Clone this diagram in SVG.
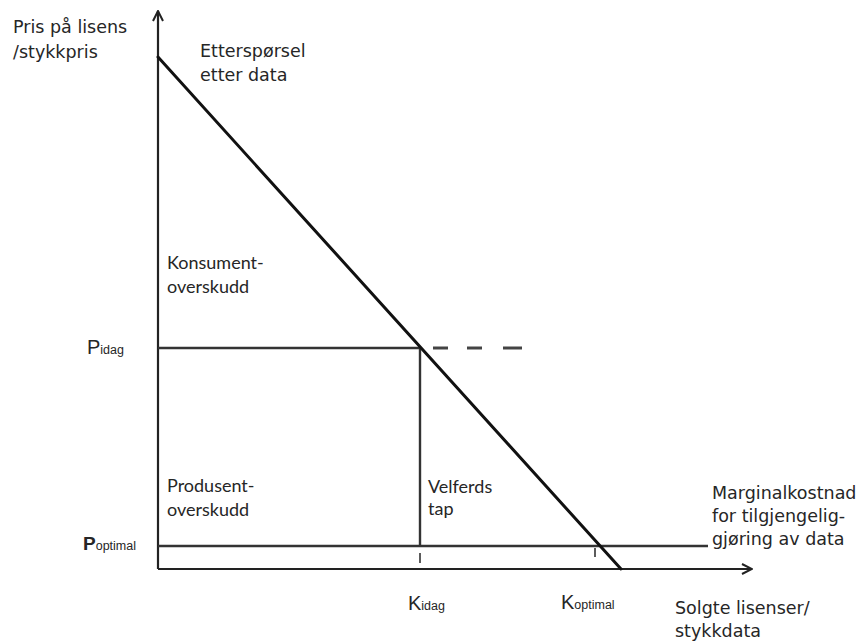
<svg xmlns="http://www.w3.org/2000/svg" width="859" height="642" viewBox="0 0 859 642">
  <style>
    .lbl { font-family: "DejaVu Sans", "Liberation Sans", sans-serif; font-size: 17.5px; fill: #262626; }
    .area { font-family: Lato, "Open Sans", "Liberation Sans", sans-serif; font-size: 18px; fill: #262626; }
    .sym { font-family: "Liberation Sans", "DejaVu Sans", sans-serif; fill: #262626; }
    .axis { stroke: #222; stroke-width: 2.2; fill: none; }
    .guide { stroke: #333; stroke-width: 2.4; fill: none; }
    .demand { stroke: #111; stroke-width: 3; fill: none; stroke-linecap: round; }
  </style>
  <defs>
    <marker id="arrow" viewBox="0 0 12 12" refX="11" refY="6" markerWidth="12" markerHeight="12" markerUnits="userSpaceOnUse" orient="auto">
      <polyline points="1,1 11,6 1,11" fill="none" stroke="#222" stroke-width="2"/>
    </marker>
  </defs>
  <rect width="859" height="642" fill="#ffffff"/>

  <g id="connectors">
    <line id="y-axis" class="axis" x1="158" y1="569" x2="158" y2="11" marker-end="url(#arrow)"/>
    <line id="x-axis" class="axis" x1="158" y1="569" x2="752" y2="569" marker-end="url(#arrow)"/>
    <line id="p-idag-line" class="guide" x1="158" y1="348" x2="420" y2="348"/>
    <g id="p-idag-dashes" stroke="#444" stroke-width="3">
      <line x1="433" y1="348" x2="448" y2="348"/>
      <line x1="467" y1="348" x2="482" y2="348"/>
      <line x1="503" y1="348" x2="522" y2="348"/>
    </g>
    <line id="k-idag-line" class="guide" x1="420" y1="348" x2="420" y2="546"/>
    <line id="p-optimal-line" class="guide" x1="158" y1="546" x2="708" y2="546"/>
    <line id="tick-k-idag" stroke="#333" stroke-width="1.6" x1="420" y1="553" x2="420" y2="563"/>
    <line id="tick-k-optimal" stroke="#333" stroke-width="1.6" x1="595" y1="548" x2="595" y2="557"/>
    <line id="demand" class="demand" x1="158" y1="57" x2="621" y2="569"/>
  </g>

  <g id="axis-labels">
    <text class="lbl" x="13" y="33">Pris på lisens</text>
    <text class="lbl" x="13" y="58">/stykkpris</text>
    <text class="lbl" x="675" y="614">Solgte lisenser/</text>
    <text class="lbl" x="675" y="637">stykkdata</text>
  </g>

  <g id="demand-label">
    <text class="lbl" x="200" y="57">Etterspørsel</text>
    <text class="lbl" x="200" y="81">etter data</text>
  </g>

  <g id="marginal-cost-label">
    <text class="lbl" x="712" y="499">Marginalkostnad</text>
    <text class="lbl" x="712" y="522">for tilgjengelig-</text>
    <text class="lbl" x="712" y="545">gjøring av data</text>
  </g>

  <g id="consumer-surplus">
    <text class="area" x="167" y="269">Konsument-</text>
    <text class="area" x="167" y="293">overskudd</text>
  </g>

  <g id="producer-surplus">
    <text class="area" x="167" y="492">Produsent-</text>
    <text class="area" x="167" y="516">overskudd</text>
  </g>

  <g id="welfare-loss">
    <text class="area" x="428" y="493">Velferds</text>
    <text class="area" x="428" y="515">tap</text>
  </g>

  <g id="p-idag">
    <text class="sym" x="87" y="354"><tspan font-size="20">P</tspan><tspan font-size="12.5">idag</tspan></text>
  </g>
  <g id="p-optimal">
    <text class="sym" x="83" y="550"><tspan font-size="19" font-weight="bold">P</tspan><tspan font-size="12.5">optimal</tspan></text>
  </g>
  <g id="k-idag">
    <text class="sym" x="408" y="610"><tspan font-size="20">K</tspan><tspan font-size="12.5">idag</tspan></text>
  </g>
  <g id="k-optimal">
    <text class="sym" x="561" y="609"><tspan font-size="20">K</tspan><tspan font-size="12.5">optimal</tspan></text>
  </g>
</svg>
